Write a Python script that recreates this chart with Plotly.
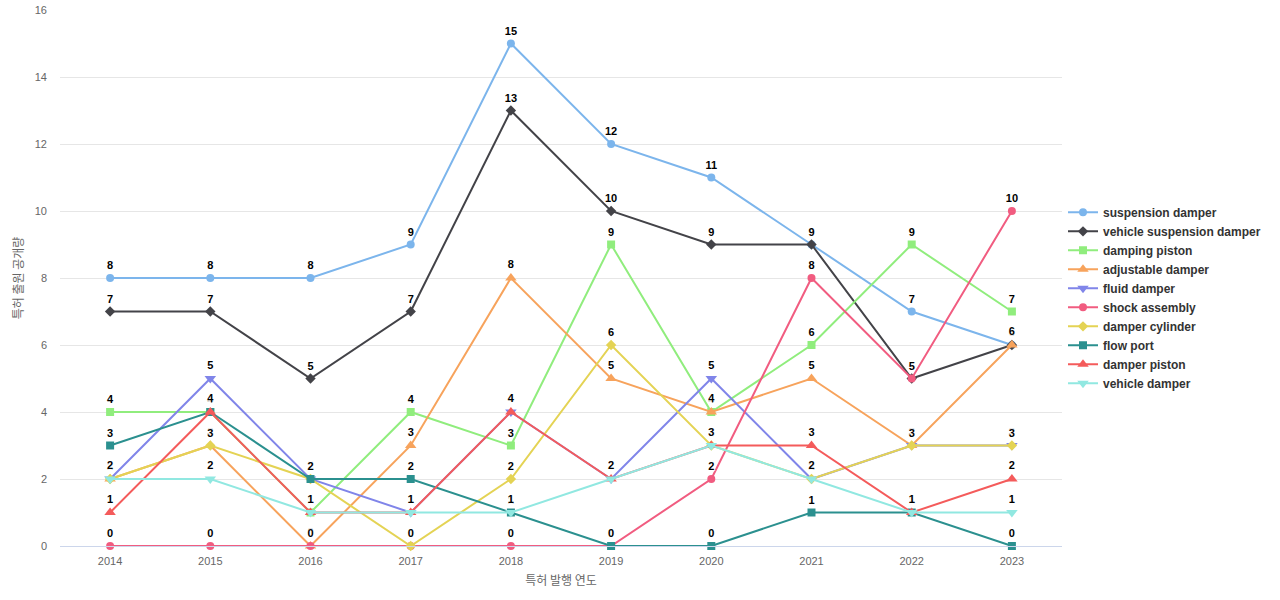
import plotly.graph_objects as go

years = ["2014", "2015", "2016", "2017", "2018", "2019", "2020", "2021", "2022", "2023"]

suspension_damper = [8, 8, 8, 9, 15, 12, 11, 9, 7, 6]
vehicle_suspension_damper = [7, 7, 5, 7, 13, 10, 9, 9, 5, 6]
damping_piston = [4, 4, 1, 4, 3, 9, 4, 6, 9, 7]
adjustable_damper = [2, 3, 0, 3, 8, 5, 4, 5, 3, 6]
fluid_damper = [2, 5, 2, 1, 4, 2, 5, 2, 3, 3]
shock_assembly = [0, 0, 0, 0, 0, 0, 2, 8, 5, 10]
damper_cylinder = [2, 3, 2, 0, 2, 6, 3, 2, 3, 3]
flow_port = [3, 4, 2, 2, 1, 0, 0, 1, 1, 0]
damper_piston = [1, 4, 1, 1, 4, 2, 3, 3, 1, 2]
vehicle_damper = [2, 2, 1, 1, 1, 2, 3, 2, 1, 1]

series = [
    ("suspension damper", suspension_damper, "#7cb5ec", "circle"),
    ("vehicle suspension damper", vehicle_suspension_damper, "#434348", "diamond"),
    ("damping piston", damping_piston, "#90ed7d", "square"),
    ("adjustable damper", adjustable_damper, "#f7a35c", "triangle-up"),
    ("fluid damper", fluid_damper, "#8085e9", "triangle-down"),
    ("shock assembly", shock_assembly, "#f15c80", "circle"),
    ("damper cylinder", damper_cylinder, "#e4d354", "diamond"),
    ("flow port", flow_port, "#2b908f", "square"),
    ("damper piston", damper_piston, "#f45b5b", "triangle-up"),
    ("vehicle damper", vehicle_damper, "#91e8e1", "triangle-down"),
]

sizes = {"circle": 8, "diamond": 8, "square": 8, "triangle-up": 10, "triangle-down": 10}

fig = go.Figure()
for name, vals, color, sym in series:
    fig.add_trace(go.Scatter(
        x=years, y=vals, name=name, mode="lines+markers+text",
        line=dict(color=color, width=2),
        marker=dict(color=color, symbol=sym, size=sizes[sym]),
        text=[str(v) for v in vals], textposition="top center",
        textfont=dict(family="Liberation Sans, Arial, sans-serif", size=11, color="#000000",
                      weight="bold", shadow="1px 1px 1px #fff, -1px -1px 1px #fff, 1px -1px 1px #fff, -1px 1px 1px #fff"),
        cliponaxis=False,
    ))

fig.update_layout(
    width=1280, height=600,
    margin=dict(l=60, r=218, t=10, b=54, autoexpand=False),
    paper_bgcolor="white", plot_bgcolor="white",
    font=dict(family="Liberation Sans, Arial, Noto Sans CJK KR, sans-serif", color="#666666", size=11),
    legend=dict(x=1.001, xanchor="left", y=0.463, yanchor="middle",
                font=dict(size=12, color="#333333", weight="bold"),
                itemwidth=30, tracegroupgap=0, bgcolor="rgba(0,0,0,0)"),
    xaxis=dict(type="category", range=[-0.5, 9.5], showgrid=False, automargin=False,
               showline=True, linecolor="#ccd6eb", linewidth=1,
               ticks="", ticklabelstandoff=5, tickfont=dict(size=11, color="#666666"),
               title=dict(text="특허 발행 연도", font=dict(size=12, color="#666666",
                          family="Noto Sans CJK KR, sans-serif"), standoff=10)),
    yaxis=dict(range=[0, 16], dtick=2, showgrid=True, gridcolor="#e6e6e6", automargin=False,
               zeroline=False, showline=False, ticks="", ticklabelstandoff=12,
               tickfont=dict(size=11, color="#666666"),
               title=dict(text="특허 출원 공개량", font=dict(size=12, color="#666666",
                          family="Noto Sans CJK KR, sans-serif"), standoff=8)),
)

fig.write_html("out.html", config={"displayModeBar": False},
               post_script="document.body.style.margin='0';")
